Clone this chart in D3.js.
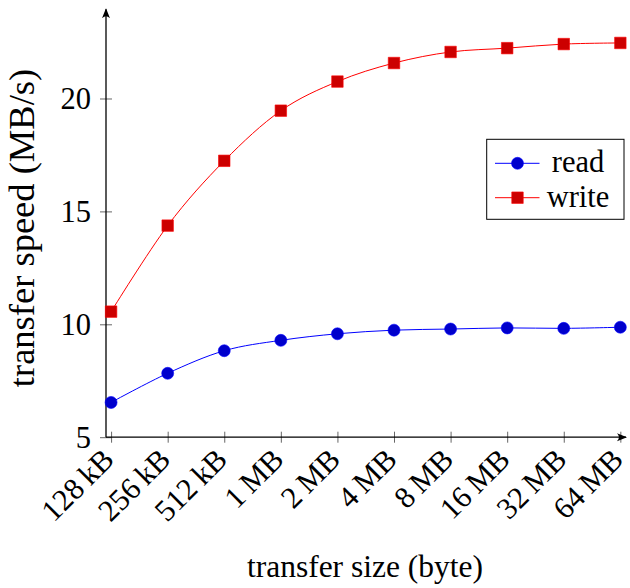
<!DOCTYPE html>
<html>
<head>
<meta charset="utf-8">
<script src="https://cdn.jsdelivr.net/npm/d3@7"></script>
<style>
  html, body { margin: 0; padding: 0; background: #fff; }
  svg text { font-family: "Liberation Serif", "Times New Roman", serif; fill: #000; }
</style>
</head>
<body>
<svg id="chart" width="630" height="588"></svg>
<script>
// Transfer sizes on the x axis (one category per point)
const sizes = ["128\u2009kB", "256\u2009kB", "512\u2009kB", "1\u2009MB", "2\u2009MB",
               "4\u2009MB", "8\u2009MB", "16\u2009MB", "32\u2009MB", "64\u2009MB"];
// Measured transfer speeds in MB/s
const readSpeed  = [6.54, 7.83, 8.83, 9.29, 9.58, 9.74, 9.79, 9.84, 9.82, 9.87];
const writeSpeed = [10.56, 14.37, 17.24, 19.46, 20.75, 21.57, 22.06, 22.23, 22.41, 22.46];
const yTicks = [5, 10, 15, 20];

const series = [
  { name: "read",  values: readSpeed,  line: "#0000ff", fill: "#0000cc", symbol: d3.symbolCircle },
  { name: "write", values: writeSpeed, line: "#ff0000", fill: "#cc0000", symbol: d3.symbolSquare }
];

const FS = 30.5;   // tick and legend text
const FX = 31.5;   // x axis title
const FY = 36.5;   // y axis title
const svg = d3.select("#chart");
const x0 = 106, x1 = 626, y0 = 437.2, y1 = 9.3;

const x = d3.scaleLinear().domain([-0.09, 9.1]).range([x0, x1]);
const y = d3.scaleLinear().domain([5, 23.95]).range([y0, y1]);

// arrow head for axis lines
const defs = svg.append("defs");
defs.append("marker")
  .attr("id", "arrow").attr("viewBox", "0 0 10 10")
  .attr("refX", 9).attr("refY", 5)
  .attr("markerWidth", 10).attr("markerHeight", 10)
  .attr("markerUnits", "userSpaceOnUse")
  .attr("orient", "auto")
  .append("path").attr("d", "M0,1 Q4,5 0,9 L10,5 Z").attr("fill", "#000");

// ticks
const tickColor = "#666";
const yAxis = d3.axisLeft(y).tickValues(yTicks).tickSize(0).tickPadding(15).tickFormat(d3.format("d"));
const gy = svg.append("g").attr("transform", `translate(${x0},0)`).call(yAxis);
gy.select(".domain").remove();
gy.selectAll(".tick text").attr("font-size", FS).attr("font-family", "Liberation Serif").attr("dy", "0.34em");
gy.selectAll(".tick").append("line")
  .attr("x1", -6).attr("x2", 6).attr("stroke", tickColor).attr("stroke-width", 1);

const xAxis = d3.axisBottom(x).tickValues(d3.range(sizes.length)).tickSize(0).tickFormat(i => sizes[i]);
const gx = svg.append("g").attr("transform", `translate(0,${y0})`).call(xAxis);
gx.select(".domain").remove();
gx.selectAll(".tick").append("line")
  .attr("y1", -5.5).attr("y2", 5.5).attr("stroke", tickColor).attr("stroke-width", 1);
gx.selectAll(".tick text")
  .attr("font-size", FS).attr("font-family", "Liberation Serif")
  .attr("text-anchor", "end").attr("dy", null).attr("y", 0)
  .attr("dominant-baseline", "central")
  .attr("transform", "translate(-3,17) rotate(-45)");

// axis lines with arrows
svg.append("line").attr("x1", x0).attr("y1", y0).attr("x2", x0).attr("y2", y1)
  .attr("stroke", "#000").attr("stroke-width", 1.3).attr("marker-end", "url(#arrow)");
svg.append("line").attr("x1", x0).attr("y1", y0).attr("x2", x1).attr("y2", y0)
  .attr("stroke", "#000").attr("stroke-width", 1.3).attr("marker-end", "url(#arrow)");

// smooth lines and markers
const line = d3.line().x((d, i) => x(i)).y(d => y(d)).curve(d3.curveCardinal.tension(0));
series.forEach(s => {
  svg.append("path").attr("d", line(s.values))
    .attr("fill", "none").attr("stroke", s.line).attr("stroke-width", 1);
  svg.append("g").selectAll("path").data(s.values).join("path")
    .attr("transform", (d, i) => `translate(${x(i)},${y(d)})`)
    .attr("d", d3.symbol().type(s.symbol).size(s.symbol === d3.symbolCircle ? 113 : 132))
    .attr("fill", s.fill).attr("stroke", s.line).attr("stroke-width", 0.6);
});

// axis titles
svg.append("text").attr("x", 365).attr("y", 577).attr("text-anchor", "middle")
  .attr("font-size", FX).text("transfer size (byte)");
svg.append("text").attr("transform", "translate(34,228) rotate(-90)").attr("text-anchor", "middle")
  .attr("font-size", FY).text("transfer speed (MB/s)");

// legend
const lg = svg.append("g");
lg.append("rect").attr("x", 486.7).attr("y", 139.3).attr("width", 137.3).attr("height", 80)
  .attr("fill", "#fff").attr("stroke", "#000").attr("stroke-width", 1);
series.forEach((s, k) => {
  const cy = 163.3 + k * 34.4;
  lg.append("line").attr("x1", 495).attr("x2", 539.5).attr("y1", cy).attr("y2", cy)
    .attr("stroke", s.line).attr("stroke-width", 1);
  lg.append("path").attr("transform", `translate(517.5,${cy})`)
    .attr("d", d3.symbol().type(s.symbol).size(s.symbol === d3.symbolCircle ? 113 : 132))
    .attr("fill", s.fill).attr("stroke", s.line).attr("stroke-width", 0.6);
  lg.append("text").attr("x", 578).attr("y", cy).attr("dy", "0.3em").attr("text-anchor", "middle")
    .attr("font-size", FS).text(s.name);
});
</script>
</body>
</html>
